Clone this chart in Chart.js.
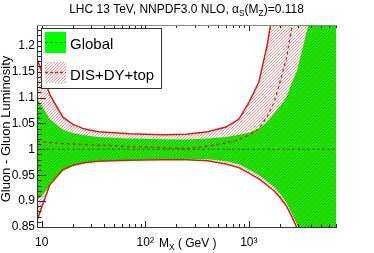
<!DOCTYPE html>
<html>
<head>
<meta charset="utf-8">
<script src="https://cdn.jsdelivr.net/npm/chart.js@4.4.1/dist/chart.umd.min.js"></script>
<style>
  body { margin: 0; background: #fff; }
  canvas { display: block; }
</style>
</head>
<body>
<canvas id="myChart" width="374" height="253"></canvas>
<script>
// invariant mass grid, GeV
const mass = [9, 10, 12, 16, 20, 26, 35, 50, 70, 100, 150, 250, 400, 600, 800, 1000, 1250, 1500, 1750, 2000, 2300, 2600, 2900, 3300, 3800, 4500, 5500, 7000];

// Global fit (ratio to Global central)
const globalCentral = [1, 1, 1, 1, 1, 1, 1, 1, 1, 1, 1, 1, 1, 1, 1, 1, 1, 1, 1, 1, 1, 1, 1, 1, 1, 1, 1, 1];
const globalUpper = [1.098, 1.084, 1.058, 1.038, 1.031, 1.027, 1.024, 1.0225, 1.021, 1.0203, 1.0195, 1.019, 1.021, 1.024, 1.028, 1.032, 1.040, 1.053, 1.069, 1.083, 1.100, 1.128, 1.150, 1.194, 1.245, 1.32, 1.42, 1.6];
const globalLower = [0.902, 0.910, 0.930, 0.958, 0.968, 0.974, 0.977, 0.9785, 0.9795, 0.980, 0.9805, 0.9815, 0.981, 0.977, 0.971, 0.961, 0.9505, 0.938, 0.927, 0.914, 0.898, 0.876, 0.856, 0.83, 0.80, 0.76, 0.71, 0.64];

// DIS+DY+top fit
const disCentral = [1.0155, 1.0145, 1.013, 1.011, 1.010, 1.009, 1.008, 1.007, 1.005, 1.0042, 1.003, 1.0015, 1.006, 1.012, 1.019, 1.027, 1.040, 1.063, 1.090, 1.130, 1.175, 1.235, 1.29, 1.36, 1.45, 1.6, 1.8, 2.1];
const disUpper = [1.175, 1.150, 1.105, 1.062, 1.048, 1.039, 1.034, 1.032, 1.030, 1.029, 1.028, 1.029, 1.034, 1.043, 1.058, 1.090, 1.130, 1.200, 1.28, 1.34, 1.42, 1.5, 1.6, 1.8, 2.0, 2.3, 2.8, 3.5];
const disLower = [0.862, 0.888, 0.932, 0.961, 0.969, 0.974, 0.977, 0.978, 0.979, 0.9795, 0.980, 0.980, 0.978, 0.9717, 0.9646, 0.954, 0.9428, 0.9306, 0.920, 0.907, 0.891, 0.870, 0.849, 0.82, 0.79, 0.75, 0.70, 0.62];

// axis ticks
const xTickValues = [10, 100, 1000];
const xTickLabels = ['10', '10²', '10³'];
const yTickValues = [0.85, 0.9, 0.95, 1, 1.05, 1.1, 1.15, 1.2];
const yTickLabels = ['0.85', '0.9', '0.95', '1', '1.05', '1.1', '1.15', '1.2'];

const FONT = '"Liberation Sans", Arial, sans-serif';
const RED = '#dd1818';
const GREEN = '#00ff00';
const DARKLINE = '#4a6200';

const canvas = document.getElementById('myChart');
const ctx0 = canvas.getContext('2d');

// diagonal hatching like ROOT fill style
function makeHatch(color) {
  const c = document.createElement('canvas');
  c.width = 3; c.height = 3;
  const g = c.getContext('2d');
  g.fillStyle = color;
  for (let i = 0; i < 3; i++) g.fillRect(i, 2 - i, 1, 1);
  return ctx0.createPattern(c, 'repeat');
}
const hatch = makeHatch('rgba(225,0,0,0.42)');

const pts = arr => mass.map((m, i) => ({x: m, y: arr[i]}));

// text with subscripts
function richText(ctx, parts, x, y, size, align) {
  const w = parts.map(p => {
    ctx.font = (p.sub ? size * 0.7 : size) + 'px ' + FONT;
    return ctx.measureText(p.t).width;
  });
  const total = w.reduce((a, b) => a + b, 0);
  let cx = align === 'center' ? x - total / 2 : x;
  ctx.textAlign = 'left';
  ctx.textBaseline = 'alphabetic';
  parts.forEach((p, i) => {
    ctx.font = (p.sub ? size * 0.7 : size) + 'px ' + FONT;
    ctx.fillText(p.t, cx, p.sub ? y + size * 0.25 : y);
    cx += w[i];
  });
}

const decorations = {
  id: 'decorations',
  afterDatasetsDraw(chart) {
    const {ctx, chartArea: a, scales: {x, y}} = chart;
    ctx.save();
    ctx.lineWidth = 1;

    // tick marks (inside, bottom/top/left)
    ctx.strokeStyle = '#222';
    ctx.beginPath();
    for (let d = 1; d <= 1000; d *= 10) {
      for (let k = 1; k <= 9; k++) {
        const v = d * k;
        if (v < 9 || v > 7100) continue;
        const px = Math.round(x.getPixelForValue(v)) + 0.5;
        const len = k === 1 ? 6 : 3;
        ctx.moveTo(px, a.bottom); ctx.lineTo(px, a.bottom - len);
        ctx.moveTo(px, a.top); ctx.lineTo(px, a.top + len);
      }
    }
    for (let k = 85; k <= 124; k++) {
      const py = Math.round(y.getPixelForValue(k / 100)) + 0.5;
      const len = k % 5 === 0 ? 9 : 4.5;
      ctx.moveTo(a.left, py); ctx.lineTo(a.left + len, py);
    }
    ctx.stroke();

    // frame
    ctx.strokeStyle = '#333';
    ctx.beginPath();
    ctx.moveTo(a.left + 0.5, a.top); ctx.lineTo(a.left + 0.5, a.bottom);
    ctx.moveTo(a.left, a.bottom + 0.5); ctx.lineTo(a.right, a.bottom + 0.5);
    ctx.stroke();
    ctx.strokeStyle = '#888';
    ctx.beginPath();
    ctx.moveTo(a.left, a.top + 0.5); ctx.lineTo(a.right, a.top + 0.5);
    ctx.stroke();

    // legend
    ctx.fillStyle = '#fff';
    ctx.fillRect(41, 28, 120, 60);
    ctx.strokeStyle = '#333';
    ctx.strokeRect(41.5, 28.5, 120, 60);
    ctx.fillStyle = GREEN;
    ctx.fillRect(45, 32, 21, 21);
    ctx.fillStyle = hatch;
    ctx.fillRect(45, 62, 21, 21);
    ctx.setLineDash([3, 2]);
    ctx.strokeStyle = DARKLINE;
    ctx.beginPath(); ctx.moveTo(45, 42.5); ctx.lineTo(66, 42.5); ctx.stroke();
    ctx.strokeStyle = RED;
    ctx.lineWidth = 1.3;
    ctx.beginPath(); ctx.moveTo(45, 72.5); ctx.lineTo(66, 72.5); ctx.stroke();
    ctx.setLineDash([]);
    ctx.fillStyle = '#000';
    ctx.font = '15px ' + FONT;
    ctx.textAlign = 'left';
    ctx.textBaseline = 'alphabetic';
    ctx.fillText('Global', 70, 49);
    ctx.fillText('DIS+DY+top', 70, 80);

    // title
    richText(ctx, [{t: 'LHC 13 TeV, NNPDF3.0 NLO, α'}, {t: 'S', sub: true}, {t: '(M'}, {t: 'Z', sub: true}, {t: ')=0.118'}], 186.5, 12.5, 12, 'center');

    // x title
    richText(ctx, [{t: 'M'}, {t: 'X', sub: true}, {t: ' ( GeV )'}], 159, 246.5, 12, 'left');

    // y title
    ctx.save();
    ctx.translate(10, 129);
    ctx.rotate(-Math.PI / 2);
    ctx.font = '13px ' + FONT;
    ctx.textAlign = 'center';
    ctx.fillText('Gluon - Gluon Luminosity', 0, 0);
    ctx.restore();

    ctx.restore();
  }
};

new Chart(canvas, {
  type: 'line',
  data: {
    datasets: [
      {label: 'Global', data: pts(globalCentral), borderColor: DARKLINE, borderWidth: 1, borderDash: [3, 2], fill: false},
      {label: 'DIS+DY+top', data: pts(disCentral), borderColor: RED, borderWidth: 1.3, borderDash: [3, 3], fill: false},
      {label: 'DIS upper', data: pts(disUpper), borderColor: RED, borderWidth: 1.5, fill: false},
      {label: 'DIS lower', data: pts(disLower), borderColor: RED, borderWidth: 1.5, fill: '-1', backgroundColor: hatch},
      {label: 'Global upper', data: pts(globalUpper), borderColor: 'rgba(0,0,0,0)', borderWidth: 0, fill: '+1', backgroundColor: GREEN},
      {label: 'Global lower', data: pts(globalLower), borderColor: 'rgba(0,0,0,0)', borderWidth: 0, fill: false}
    ]
  },
  options: {
    responsive: false,
    animation: false,
    layout: {padding: {top: 25, right: 37, left: 0, bottom: 0}},
    elements: {point: {radius: 0}, line: {tension: 0}},
    plugins: {legend: {display: false}, tooltip: {enabled: false}},
    scales: {
      x: {
        type: 'logarithmic', min: 9, max: 7100,
        grid: {display: false, drawTicks: false, tickLength: 0}, border: {display: false},
        afterBuildTicks: s => { s.ticks = xTickValues.map(v => ({value: v})); },
        afterFit: s => { s.height = 26; },
        ticks: {autoSkip: false, maxRotation: 0, padding: 8, color: '#000',
          font: {family: FONT, size: 12},
          callback: (v, i) => xTickLabels[i]}
      },
      y: {
        min: 0.85, max: 1.24,
        grid: {display: false, drawTicks: false, tickLength: 0}, border: {display: false},
        afterBuildTicks: s => { s.ticks = yTickValues.map(v => ({value: v})); },
        afterFit: s => { s.width = 37; },
        ticks: {autoSkip: false, padding: 2, color: '#000',
          font: {family: FONT, size: 12},
          callback: (v, i) => yTickLabels[i]}
      }
    }
  },
  plugins: [decorations]
});
</script>
</body>
</html>
